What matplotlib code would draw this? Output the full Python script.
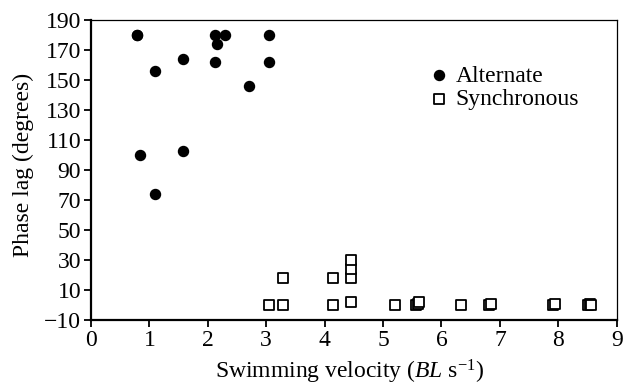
import matplotlib
matplotlib.use("Agg")
import matplotlib.pyplot as plt

plt.rcParams['font.family'] = ['Liberation Serif', 'DejaVu Serif']
plt.rcParams['mathtext.fontset'] = 'custom'
plt.rcParams['mathtext.rm'] = 'Liberation Serif'
plt.rcParams['mathtext.it'] = 'Liberation Serif:italic'
plt.rcParams['font.size'] = 17

# alternate phase (filled circles)
alt_x = [0.78, 0.79, 0.84, 1.10, 1.10, 1.58, 1.58, 2.13, 2.15, 2.13, 2.29, 2.70, 3.05, 3.05]
alt_y = [180, 180, 100, 156, 74, 164, 103, 180, 174, 162, 180, 146, 180, 162]

# synchronous phase (open squares)
syn_x = [3.05, 3.29, 3.29, 4.15, 4.15, 4.45, 4.45, 4.45, 4.45, 5.21,
         5.57, 5.60, 5.62, 6.34, 6.81, 6.84, 7.90, 7.95, 8.51, 8.54, 8.56]
syn_y = [0, 0, 18, 18, 0, 2, 18, 24, 30, 0,
         0, 1, 2, 0, 0, 1, 0, 1, 0, 1, 0]

fig = plt.figure(figsize=(6.23, 3.87), dpi=100)
ax = fig.add_axes([0.146, 0.173, 0.844, 0.775])

ax.scatter(alt_x, alt_y, s=52, color='black', marker='o', label='Alternate', zorder=3)
ax.scatter(syn_x, syn_y, s=44, facecolors='white', edgecolors='black',
           linewidths=1.3, marker='s', label='Synchronous', zorder=3)

ax.set_xlim(0, 9)
ax.set_ylim(-10, 190)
ax.set_xticks(range(0, 10))
ax.set_yticks(range(-10, 191, 20))
ax.tick_params(direction='out', length=5, width=1.3, labelsize=17, pad=2)
for sp in ['left', 'bottom']:
    ax.spines[sp].set_linewidth(1.6)
for sp in ['top', 'right']:
    ax.spines[sp].set_linewidth(0.9)

ax.set_xlabel('Swimming velocity ($\\mathit{BL}$ s$^{\u22121}$)', fontsize=17)
ax.set_ylabel('Phase lag (degrees)', fontsize=17)
ax.xaxis.set_label_coords(0.492, -0.125)
ax.yaxis.set_label_coords(-0.108, 0.517)

ax.legend(loc='upper left', bbox_to_anchor=(432 / 623, 1 - 65 / 387),
          bbox_transform=fig.transFigure, frameon=False,
          handletextpad=0.4, borderpad=0, borderaxespad=0, labelspacing=0.1,
          fontsize=17, handlelength=0.6)

fig.savefig('out.png', dpi=100)
